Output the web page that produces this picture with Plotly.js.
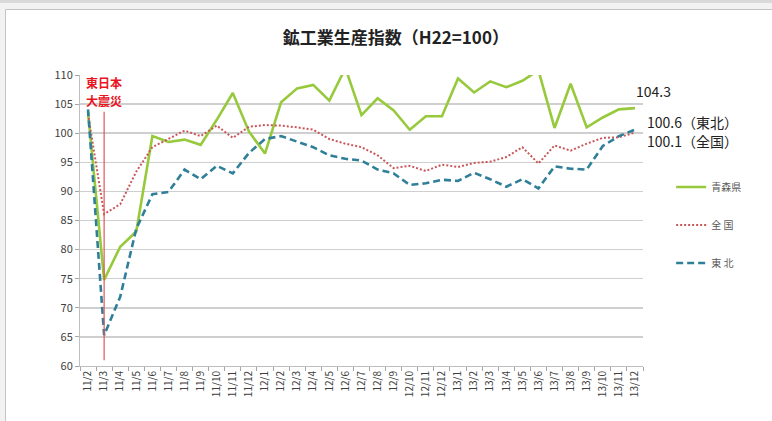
<!DOCTYPE html>
<html>
<head>
<meta charset="utf-8">
<script src="https://cdn.plot.ly/plotly-3.0.1.min.js"></script>
<style>
  html, body { margin: 0; padding: 0; background: #f2f2f2; width: 772px; height: 421px; overflow: hidden; }
  #topbar { position: absolute; left: 0; top: 0; width: 772px; height: 3px; background: #d9d9d9; }
  #frame { position: absolute; left: 5px; top: 9px; width: 767px; height: 412px; background: #fff;
           border-left: 1px solid #c4c4c4; border-top: 1px solid #c4c4c4; }
  #chart { position: absolute; left: 0; top: 0; width: 766px; height: 411px; }
</style>
</head>
<body>
<div id="topbar"></div>
<div id="frame"><div id="chart"></div></div>
<script>
const categories = ["11/2","11/3","11/4","11/5","11/6","11/7","11/8","11/9","11/10","11/11","11/12",
  "12/1","12/2","12/3","12/4","12/5","12/6","12/7","12/8","12/9","12/10","12/11","12/12",
  "13/1","13/2","13/3","13/4","13/5","13/6","13/7","13/8","13/9","13/10","13/11","13/12"];

const aomori = [103.6, 74.8, 80.5, 83.1, 99.5, 98.5, 98.9, 98.0, 102.3, 106.9, 100.3,
  96.5, 105.3, 107.7, 108.3, 105.6, 111.2, 103.1, 106.0, 103.9, 100.6, 102.9, 102.9,
  109.4, 107.0, 108.9, 107.9, 109.0, 110.8, 100.9, 108.5, 101.0, 102.7, 104.1, 104.3];

const zenkoku = [103.3, 86.1, 87.8, 93.4, 97.6, 99.0, 100.45, 99.5, 101.3, 99.2, 101.1,
  101.4, 101.3, 101.0, 100.6, 99.0, 98.2, 97.6, 96.2, 94.0, 94.4, 93.5, 94.6,
  94.2, 94.9, 95.1, 95.9, 97.6, 94.8, 97.9, 97.0, 98.2, 99.2, 99.3, 100.1];

const tohoku = [104.1, 65.3, 71.9, 83.6, 89.5, 89.9, 93.75, 92.1, 94.4, 93.1, 96.6,
  99.0, 99.5, 98.5, 97.6, 96.2, 95.6, 95.3, 93.75, 93.1, 91.1, 91.4, 92.0,
  91.8, 93.2, 92.1, 90.8, 92.1, 90.5, 94.3, 93.9, 93.75, 97.8, 99.5, 100.6];

const seriesNames = ["青森県", "全 国", "東 北"];
const yTicks = [60, 65, 70, 75, 80, 85, 90, 95, 100, 105, 110];
const titleText = "鉱工業生産指数（H22=100）";
const quakeIndex = 1;              // 11/3
const quakeLabel = ["東日本", "大震災"];
const endLabels = ["104.3", "100.6（東北）", "100.1（全国）"];

const JP = '"Noto Sans CJK JP", "Noto Sans", sans-serif';

const traces = [
  { x: categories, y: aomori, name: seriesNames[0], type: "scatter", mode: "lines",
    line: { color: "#97c93c", width: 2.6 }, legendgroup: "a" },
  { x: categories, y: zenkoku, name: seriesNames[1], type: "scatter", mode: "lines",
    line: { color: "#c9575a", width: 2, dash: "2px,2px" }, legendgroup: "b" },
  { x: categories, y: tohoku, name: seriesNames[2], type: "scatter", mode: "lines",
    line: { color: "#2f7f98", width: 2.6, dash: "7px,4px" }, legendgroup: "c" }
];

const layout = {
  width: 766, height: 411,
  margin: { l: 74, r: 129, t: 65, b: 55 },
  paper_bgcolor: "#ffffff",
  plot_bgcolor: "#ffffff",
  font: { family: JP, color: "#404040" },
  title: { text: titleText, x: 0.509, xref: "container", y: 0.932, yref: "container",
           yanchor: "middle", xanchor: "center",
           font: { family: JP, size: 17, color: "#222", weight: "bold" } },
  showlegend: true,
  legend: { x: 1.05, y: 0.665, xanchor: "left", yanchor: "top", tracegroupgap: 19,
            font: { family: JP, size: 10, color: "#595959" }, itemwidth: 30,
            bgcolor: "rgba(0,0,0,0)" },
  xaxis: {
    type: "category", tickangle: -90, tickson: "boundaries",
    ticks: "outside", ticklen: 4, tickcolor: "#a6a6a6",
    showline: true, linecolor: "#bfbfbf", linewidth: 1,
    showgrid: false, tickfont: { family: JP, size: 10, color: "#404040" },
    range: [-0.5, categories.length - 0.5], fixedrange: true
  },
  yaxis: {
    range: [60, 110], tickvals: yTicks, ticktext: yTicks.map(String),
    ticks: "outside", ticklen: 4, tickcolor: "#a6a6a6",
    showline: true, linecolor: "#bfbfbf", linewidth: 1,
    showgrid: true, gridcolor: "#cfcfcf", gridwidth: 1.5, zeroline: false,
    tickfont: { family: JP, size: 11, color: "#404040" }, fixedrange: true
  },
  shapes: [
    { type: "line", xref: "x", yref: "y", x0: quakeIndex, x1: quakeIndex, y0: 103.7, y1: 61,
      line: { color: "#e0555a", width: 1.2 } }
  ],
  annotations: [
    { xref: "x", yref: "y", x: quakeIndex, y: 108.7, text: quakeLabel[0], showarrow: false,
      font: { family: JP, size: 12, color: "#e8141e", weight: "bold" }, xanchor: "center", yanchor: "middle" },
    { xref: "x", yref: "y", x: quakeIndex, y: 105.6, text: quakeLabel[1], showarrow: false,
      font: { family: JP, size: 12, color: "#e8141e", weight: "bold" }, xanchor: "center", yanchor: "middle" },
    { xref: "paper", yref: "y", x: 1.018, y: 107.2, text: endLabels[0], showarrow: false,
      font: { family: JP, size: 14, color: "#222" }, xanchor: "center", yanchor: "middle" },
    { xref: "paper", yref: "y", x: 1.003, y: 102.0, text: endLabels[1], showarrow: false,
      font: { family: JP, size: 14, color: "#222" }, xanchor: "left", yanchor: "middle" },
    { xref: "paper", yref: "y", x: 1.003, y: 98.6, text: endLabels[2], showarrow: false,
      font: { family: JP, size: 14, color: "#222" }, xanchor: "left", yanchor: "middle" }
  ]
};

Plotly.newPlot("chart", traces, layout, { displayModeBar: false, staticPlot: true });
</script>
</body>
</html>
